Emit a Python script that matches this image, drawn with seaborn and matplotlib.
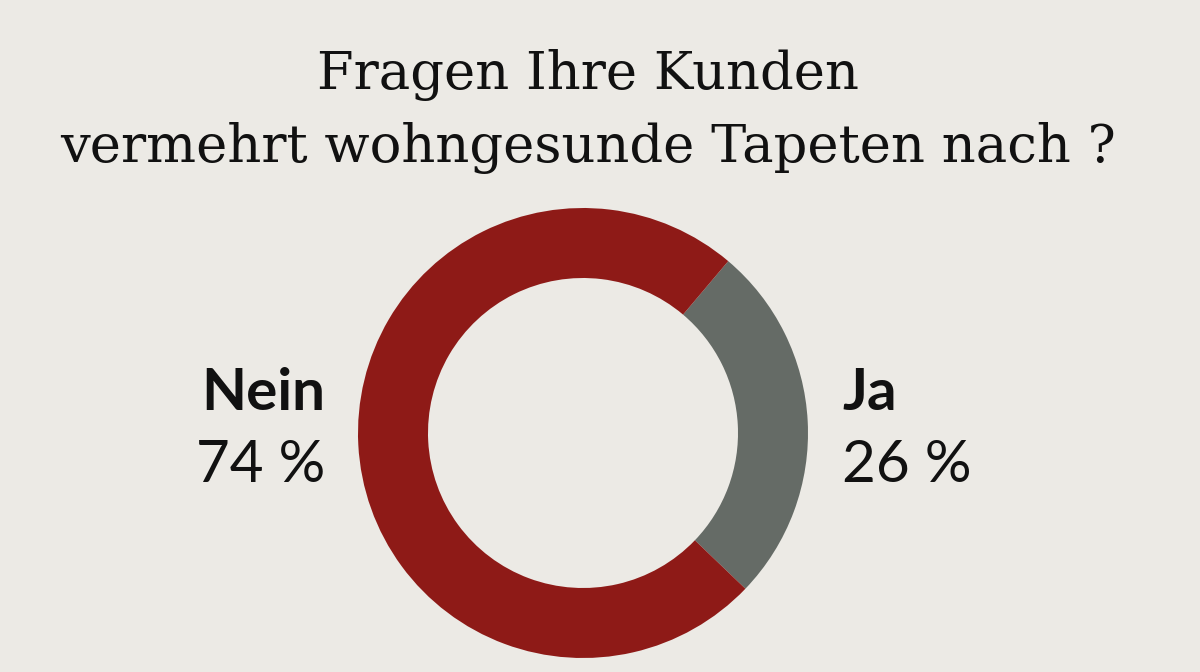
import matplotlib
matplotlib.use("Agg")
import matplotlib.pyplot as plt
import seaborn as sns

sns.set_theme(style="white")
plt.rcParams["font.family"] = ["Lato", "DejaVu Sans"]

labels = ["Ja", "Nein"]
shares = [26, 74]
colors = ["#656B66", "#8E1A17"]
bg = "#ECEAE5"
ink = "#111111"

fig = plt.figure(figsize=(12, 6.72), dpi=100)
fig.patch.set_facecolor(bg)

ax = fig.add_axes([(583 - 225) / 1200, (672 - 433 - 225) / 672, 450 / 1200, 450 / 672])
ax.set_facecolor(bg)
ax.pie(shares, colors=colors, startangle=-43.8, counterclock=True, radius=1,
       wedgeprops=dict(width=70 / 225, edgecolor="none"))
ax.set_xlim(-1, 1)
ax.set_ylim(-1, 1)
ax.axis("off")

title_kw = dict(ha="center", va="center", fontsize=38, color=ink,
                family=["DejaVu Serif"], fontweight="medium")
fig.text(0.49, 1 - 75 / 672, "Fragen Ihre Kunden", **title_kw)
fig.text(0.49, 1 - 148 / 672, "vermehrt wohngesunde Tapeten nach ?", **title_kw)

fig.text(325 / 1200, 1 - 393 / 672, labels[1], ha="right", va="center",
         fontsize=42, fontweight="bold", color=ink)
fig.text(325 / 1200, 1 - 465 / 672, f"{shares[1]} %", ha="right", va="center",
         fontsize=42, color=ink)
fig.text(842 / 1200, 1 - 393 / 672, labels[0], ha="left", va="center",
         fontsize=42, fontweight="bold", color=ink)
fig.text(842 / 1200, 1 - 465 / 672, f"{shares[0]} %", ha="left", va="center",
         fontsize=42, color=ink)

fig.savefig("out.png", dpi=100, facecolor=bg)
